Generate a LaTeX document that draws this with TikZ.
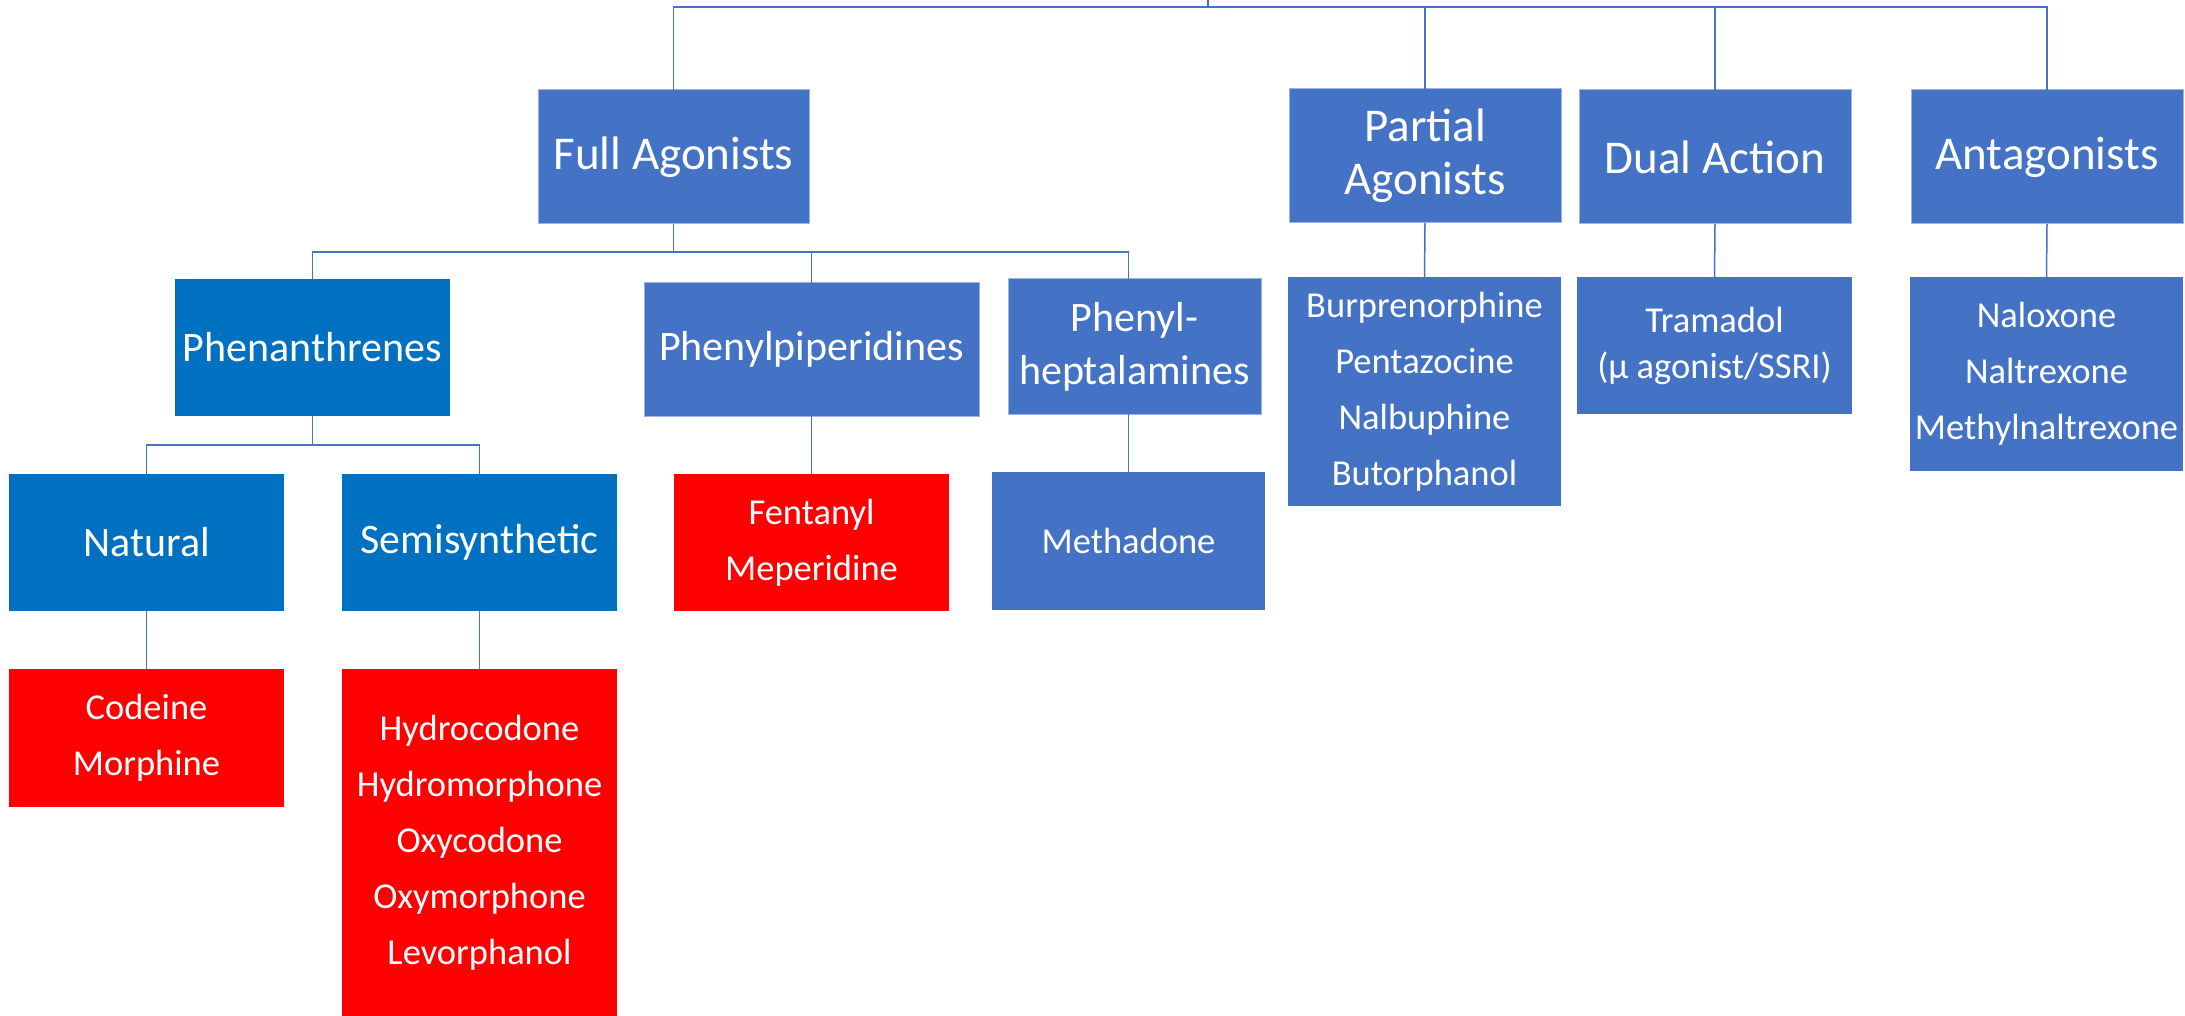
\documentclass[tikz,border=0pt]{standalone}
\usepackage{fontspec}
\setmainfont{Carlito}
\definecolor{cblue}{HTML}{4472C4}
\definecolor{dblue}{HTML}{0070C0}
\definecolor{cred}{HTML}{FF0000}
\definecolor{edgeb}{HTML}{9DB4E0}
\tikzset{
  box/.style={rectangle, inner sep=0pt, outer sep=0pt, text=white, align=center},
  bluebox/.style={box, fill=cblue, draw=edgeb, line width=0.5pt},
  plainblue/.style={box, fill=cblue},
  darkbox/.style={box, fill=dblue},
  redbox/.style={box, fill=cred},
  toptxt/.style={font=\fontsize{23.5pt}{26.5pt}\selectfont},
  midtxt/.style={font=\fontsize{21pt}{26.5pt}\selectfont},
  drugtxt/.style={font=\fontsize{18.25pt}{28pt}\selectfont},
  conn/.style={draw=cblue, line width=0.75pt},
}
\begin{document}
\begin{tikzpicture}[x=0.5pt, y=-0.5pt]
\useasboundingbox (0,0) rectangle (2185,1016);
\fill[white] (0,0) rectangle (2185,1016);
% top level
\node[bluebox, toptxt, minimum width=135.5pt, minimum height=67pt] (FA) at (673.5,157) {Full Agonists};
\node[bluebox, toptxt, minimum width=136pt, minimum height=67pt] (PA) at (1425,156) {Partial\\Agonists};
\node[bluebox, toptxt, minimum width=136pt, minimum height=67pt] (DA) at (1715,157) {Dual Action};
\node[bluebox, toptxt, minimum width=136pt, minimum height=67pt] (AN) at (2047,157) {Antagonists};
% second level
\node[darkbox, midtxt, minimum width=137.5pt, minimum height=68.5pt] (PH) at (312.5,347.5) {Phenanthrenes};
\node[bluebox, midtxt, minimum width=167.5pt, minimum height=66.5pt] (PP) at (811.5,349.5) {Phenylpiperidines};
\node[bluebox, midtxt, minimum width=126.5pt, minimum height=67.5pt] (HP) at (1134.5,346.5) {Phenyl-\\heptalamines};
% third level
\node[darkbox, midtxt, minimum width=137.5pt, minimum height=68.5pt] (NA) at (146.5,542.5) {Natural};
\node[darkbox, midtxt, minimum width=137.5pt, minimum height=68.5pt] (SS) at (479.5,542.5) {Semisynthetic};
\node[redbox, drugtxt, minimum width=137.5pt, minimum height=68.5pt] (FE) at (811.5,542.5) {Fentanyl\\Meperidine};
\node[plainblue, drugtxt, minimum width=136.5pt, minimum height=69pt] (ME) at (1128.5,541) {Methadone};
% drug lists
\node[redbox, drugtxt, minimum width=137.5pt, minimum height=69pt] (CO) at (146.5,738) {Codeine\\Morphine};
\node[redbox, drugtxt, minimum width=137.5pt, minimum height=173.5pt] (HY) at (479.5,842.5) {Hydrocodone\\Hydromorphone\\Oxycodone\\Oxymorphone\\Levorphanol};
\node[plainblue, drugtxt, minimum width=136.5pt, minimum height=114.5pt] (BU) at (1424.5,391.5) {Burprenorphine\\Pentazocine\\Nalbuphine\\Butorphanol};
\node[plainblue, font=\fontsize{18.25pt}{23pt}\selectfont, minimum width=137.5pt, minimum height=68.5pt] (TR) at (1714.5,345.5) {Tramadol\\(μ agonist/SSRI)};
\node[plainblue, drugtxt, minimum width=136.5pt, minimum height=97pt] (NL) at (2046.5,374) {Naloxone\\Naltrexone\\Methylnaltrexone};
% connectors
\coordinate (topc) at (1208,0);
\coordinate (topbus) at (1208,7);
\coordinate (fab) at (673.5,252);
\coordinate (phb) at (312.5,445);
\draw[conn] (topc) -- (topbus);
\draw[conn] (FA.north) |- (topbus);
\draw[conn] (PA.north) |- (topbus);
\draw[conn] (DA.north) |- (topbus);
\draw[conn] (AN.north) |- (topbus);
\draw[conn] (FA.south) -- (fab);
\draw[conn] (PH.north) |- (fab);
\draw[conn] (PP.north) |- (fab);
\draw[conn] (HP.north -| ME.north) |- (fab);
\draw[conn] (PH.south) -- (phb);
\draw[conn] (NA.north) |- (phb);
\draw[conn] (SS.north) |- (phb);
\draw[conn] (NA.south) -- (CO.north);
\draw[conn] (SS.south) -- (HY.north);
\draw[conn] (PP.south) -- (FE.north);
\draw[conn] (HP.south -| ME.north) -- (ME.north);
\draw[conn] (PA.south) -- (BU.north);
\draw[conn] (DA.south) -- (TR.north);
\draw[conn] (AN.south) -- (NL.north);
\end{tikzpicture}
\end{document}
